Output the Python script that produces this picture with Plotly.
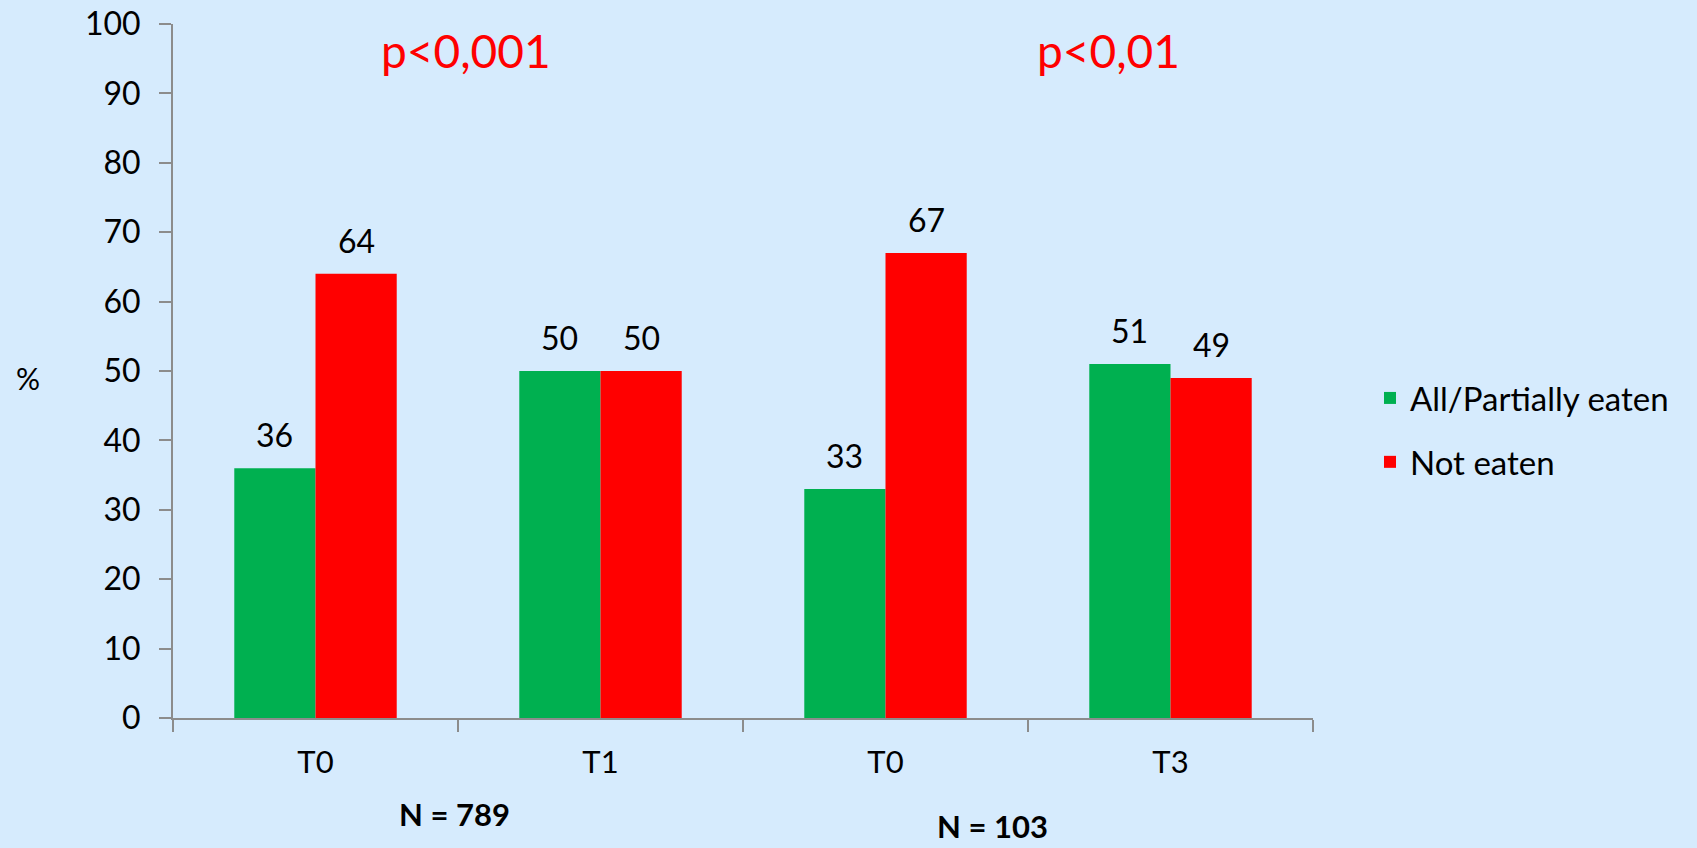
import plotly.graph_objects as go

# Data
positions = [0, 1, 2, 3]
time_labels = ["T0", "T1", "T0", "T3"]
eaten = [36, 50, 33, 51]
not_eaten = [64, 50, 67, 49]
series_names = ["All/Partially eaten", "Not eaten"]
p_labels = ["p<0,001", "p<0,01"]
n_labels = ["N = 789", "N = 103"]

GREEN = "#00B050"
RED = "#FF0000"
BG = "#D6EBFD"
AXIS = "#8C8C8C"
FONT = "Lato"
BAR_W = 0.285

fig = go.Figure()
fig.add_trace(go.Bar(
    x=positions, y=eaten, name=series_names[0], marker_color=GREEN,
    marker_line_width=0, width=BAR_W, offset=-BAR_W, legendgroup="a",
))
fig.add_trace(go.Bar(
    x=positions, y=not_eaten, name=series_names[1], marker_color=RED,
    marker_line_width=0, width=BAR_W, offset=0, legendgroup="b",
))

annotations = []
# value labels above each bar
for xs, ys, shift in ((positions, eaten, -BAR_W / 2), (positions, not_eaten, BAR_W / 2)):
    for xv, yv in zip(xs, ys):
        annotations.append(dict(
            x=xv + shift, y=yv, xref="x", yref="y", text=str(yv),
            showarrow=False, yanchor="bottom", yshift=12,
            font=dict(family=FONT, size=32, color="black"),
        ))

# significance labels
for txt, xp in zip(p_labels, [0.257, 0.821]):
    annotations.append(dict(
        x=xp, y=0.962, xref="paper", yref="paper", text=txt, showarrow=False,
        xanchor="center", yanchor="middle",
        font=dict(family=FONT, size=46, color=RED),
    ))

# sample sizes under each pair
for txt, xp, yp in zip(n_labels, [0.247, 0.719], [-0.138, -0.156]):
    annotations.append(dict(
        x=xp, y=yp, xref="paper", yref="paper", text="<b>" + txt + "</b>",
        showarrow=False, xanchor="center", yanchor="middle",
        font=dict(family=FONT, size=31, color="black"),
    ))

# y-axis unit
annotations.append(dict(
    x=-0.127, y=0.49, xref="paper", yref="paper", text="%", showarrow=False,
    xanchor="center", yanchor="middle",
    font=dict(family=FONT, size=30, color="black"),
))

fig.update_layout(
    width=1697, height=848,
    paper_bgcolor=BG, plot_bgcolor=BG,
    margin=dict(l=173, r=384, t=24, b=130),
    barmode="group", bargap=0.43, bargroupgap=0,
    font=dict(family=FONT, size=30, color="black"),
    showlegend=True,
    legend=dict(
        x=1.05, y=0.415, xanchor="left", yanchor="middle",
        bgcolor="rgba(0,0,0,0)", tracegroupgap=18,
        font=dict(family=FONT, size=33, color="black"),
    ),
    annotations=annotations,
)

fig.update_xaxes(
    range=[-0.5, 3.5], tickmode="array", tickvals=positions, ticktext=time_labels,
    ticks="", showline=True, linecolor=AXIS, linewidth=2, showgrid=False,
    zeroline=False, ticklabelstandoff=16, automargin=False,
    tickfont=dict(family=FONT, size=31, color="black"),
    minor=dict(tickmode="array", tickvals=[-0.5, 0.5, 1.5, 2.5, 3.5],
               ticks="outside", ticklen=12, tickcolor=AXIS, tickwidth=2, showgrid=False),
)
fig.update_yaxes(
    range=[0, 100], tickmode="array", tickvals=list(range(0, 101, 10)),
    ticks="outside", ticklen=12, tickcolor=AXIS, tickwidth=2,
    showline=True, linecolor=AXIS, linewidth=2, showgrid=False, zeroline=False,
    ticklabelstandoff=12, automargin=False,
    tickfont=dict(family=FONT, size=32, color="black"),
)

fig.write_html("out.html")
